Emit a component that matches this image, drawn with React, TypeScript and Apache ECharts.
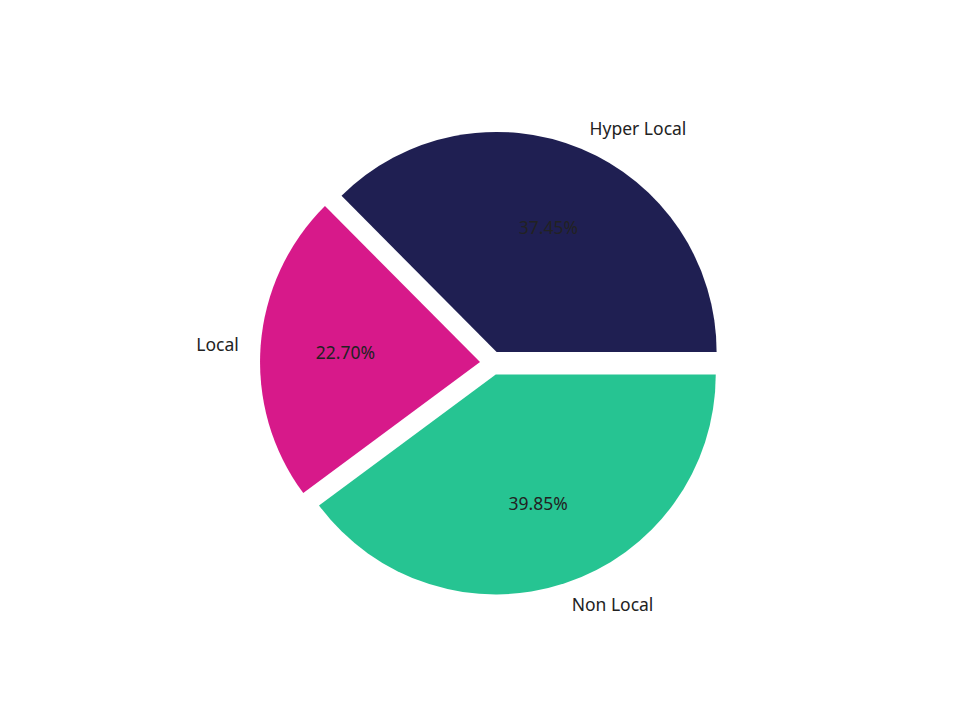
import * as echarts from 'echarts';
import { useEffect, useRef } from 'react';

// slice data (percent shares)
const categories = ['Hyper Local', 'Local', 'Non Local'];
const shares = [37.45, 22.7, 39.85];
const colors = ['#1f1f52', '#d7198a', '#26c492'];

const RADIUS = 220;
const OFFSET = 12;
const CENTER = [492, 363];
const FONT = '"Noto Sans", "Open Sans", sans-serif';

const getOptions = (): echarts.EChartsOption => {
  const common = {
    type: 'pie' as const,
    center: CENTER,
    startAngle: 0,
    clockwise: false,
    selectedMode: 'multiple' as const,
    selectedOffset: OFFSET,
    avoidLabelOverlap: false,
    silent: true,
  };
  return {
    animation: false,
    backgroundColor: '#ffffff',
    series: [
      {
        ...common,
        radius: [0, RADIUS],
        data: categories.map((name, i) => ({
          name,
          value: shares[i],
          selected: true,
          itemStyle: { color: colors[i] },
        })),
        label: {
          show: true,
          position: 'outside',
          formatter: '{b}',
          color: '#222222',
          fontSize: 17.5,
          fontFamily: FONT,
          distanceToLabelLine: 0,
        },
        labelLine: { show: false, length: RADIUS * 0.1, length2: 0 },
      },
      {
        ...common,
        radius: [RADIUS * 0.2, RADIUS],
        data: categories.map((name, i) => ({
          name,
          value: shares[i],
          selected: true,
          itemStyle: { color: 'rgba(0,0,0,0)' },
        })),
        label: {
          show: true,
          position: 'inside',
          formatter: (p: any) => `${p.value.toFixed(2)}%`,
          color: '#222222',
          fontSize: 17.5,
          fontFamily: FONT,
        },
        labelLine: { show: false },
      },
    ],
  };
};

export default function App() {
  const chartRef = useRef<HTMLDivElement>(null);

  useEffect(() => {
    document.body.style.margin = '0';
    if (!chartRef.current) return;
    const chart = echarts.init(chartRef.current, undefined, { renderer: 'svg' });
    chart.setOption(getOptions());
    return () => {
      chart.dispose();
    };
  }, []);

  return <div ref={chartRef} style={{ width: 960, height: 720 }} />;
}
